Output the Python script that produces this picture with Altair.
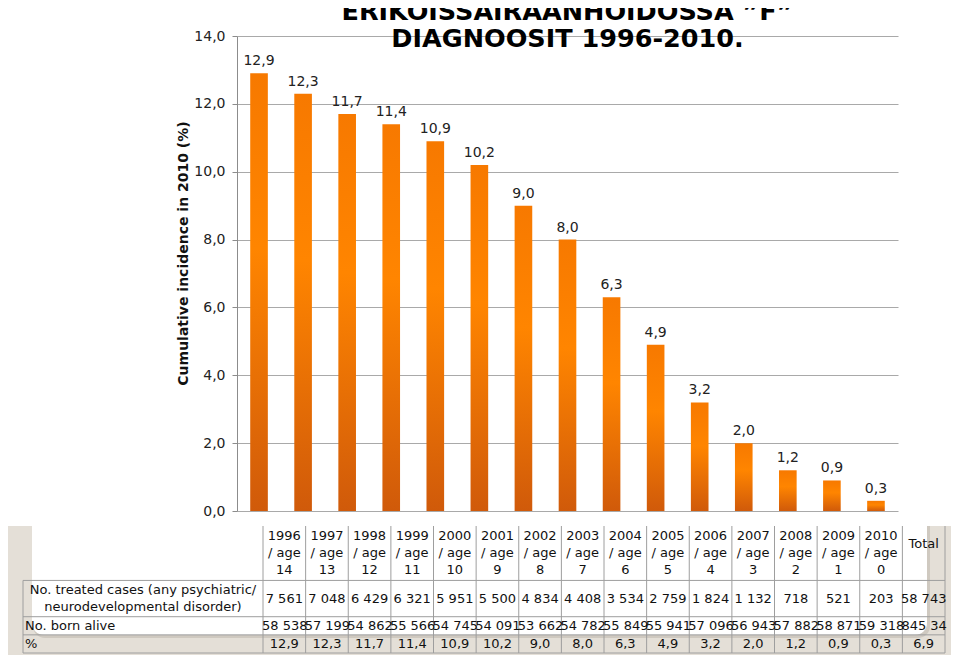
import altair as alt
import pandas as pd

# ---------------- data ----------------
years = [str(y) for y in range(1996, 2011)]
ages = [14, 13, 12, 11, 10, 9, 8, 7, 6, 5, 4, 3, 2, 1, 0]
incidence = [12.9, 12.3, 11.7, 11.4, 10.9, 10.2, 9.0, 8.0, 6.3, 4.9, 3.2, 2.0, 1.2, 0.9, 0.3]
treated = [7561, 7048, 6429, 6321, 5951, 5500, 4834, 4408, 3534, 2759, 1824, 1132, 718, 521, 203]
born = [58538, 57199, 54862, 55566, 54745, 54091, 53662, 54782, 55849, 55941, 57096, 56943, 57882, 58871, 59318]
total_treated = 58743
total_born = 845345
total_pct = 6.9
row_labels = ["No. treated cases (any psychiatric/\nneurodevelopmental disorder)", "No. born alive", "%"]
row_lines = [3, 2, 1, 1]  # text lines per table row: header, treated, born, %
title_lines = ["ERIKOISSAIRAANHOIDOSSA \u201dF\u201d", "DIAGNOOSIT 1996-2010."]
y_title = "Cumulative incidence in 2010 (%)"
y_ticks = [0, 2, 4, 6, 8, 10, 12, 14]

FONT = "DejaVu Sans"


def fi(v):
    return f"{v:.1f}".replace(".", ",")


def thousands(n):
    return f"{n:,}".replace(",", " ")


# ---------------- bar part ----------------
bar_df = pd.DataFrame({"year": years, "value": incidence, "label": [fi(v) for v in incidence]})

xbar = alt.X("year:N", sort=years, axis=None, scale=alt.Scale(paddingInner=0.6, paddingOuter=0.3))
ybar = alt.Y(
    "value:Q",
    scale=alt.Scale(domain=[0, 14], nice=False),
    axis=alt.Axis(
        values=y_ticks,
        labelExpr="replace(format(datum.value, '.1f'), '.', ',')",
        grid=True, gridColor="#a9a9a9", gridWidth=1,
        domainColor="#8c8c8c", tickColor="#8c8c8c", tickSize=5,
        labelPadding=7, labelFontSize=14, labelFont=FONT, labelColor="#222222",
        title=y_title, titleFont=FONT, titleFontSize=14, titleFontWeight="bold",
        titleColor="#111111", titleAngle=270, titleX=-54, titleY=217,
        titleAlign="center", titleBaseline="middle",
    ),
)

grad = alt.LinearGradient(
    gradient="linear",
    stops=[
        alt.GradientStop(color="#f77900", offset=0),
        alt.GradientStop(color="#ff8500", offset=0.4),
        alt.GradientStop(color="#d05a0a", offset=1),
    ],
    x1=1, x2=1, y1=0, y2=1,
)

bars = alt.Chart(bar_df).mark_bar(color=grad).encode(x=xbar, y=ybar)
bar_labels = alt.Chart(bar_df).mark_text(
    font=FONT, fontSize=14, color="#222222", baseline="bottom", dy=-5
).encode(x=alt.X("year:N", sort=years), y="value:Q", text="label:N")
bar_layer = alt.layer(bars, bar_labels)

# ---------------- table part ----------------
cols = years + ["Total"]
starts = [sum(row_lines[:i]) for i in range(len(row_lines))]
centers = [s + n / 2 for s, n in zip(starts, row_lines)]
n_lines = sum(row_lines)

tx_scale = alt.Scale(domain=cols, range=[26, 708], paddingInner=0, paddingOuter=0)
ty_scale = alt.Scale(domain=[0, n_lines], range=[490, 617], nice=False, zero=False)

header_df = pd.DataFrame({
    "col": years,
    "y": centers[0],
    "text": [f"{y}\n/ age\n{a}" for y, a in zip(years, ages)],
})
total_head_df = pd.DataFrame({"col": ["Total"], "y": [centers[0]], "text": ["Total"]})
treated_df = pd.DataFrame({"col": cols, "y": centers[1],
                           "text": [thousands(v) for v in treated] + [thousands(total_treated)]})
born_df = pd.DataFrame({"col": cols, "y": centers[2],
                        "text": [thousands(v) for v in born] + [thousands(total_born)]})
pct_df = pd.DataFrame({"col": cols, "y": centers[3],
                       "text": [fi(v) for v in incidence] + [fi(total_pct)]})

TX = lambda **kw: alt.X("col:N", sort=cols, scale=tx_scale, axis=None, **kw)
TY = lambda f="y": alt.Y(f"{f}:Q", scale=ty_scale, axis=None)

one = pd.DataFrame({"k": [0]})
beige = alt.Chart(one).mark_rect(color="#e4dfd7").encode(
    x=alt.value(-229), x2=alt.value(714), y=alt.value(490), y2=alt.value(619))
shadow = alt.Chart(one).mark_rect(color="#b9b3a9", opacity=0.5, cornerRadiusBottomLeft=12,
                                  cornerRadiusBottomRight=12).encode(
    x=alt.value(-204), x2=alt.value(693), y=alt.value(490), y2=alt.value(602))
panel = alt.Chart(one).mark_rect(color="#ffffff", cornerRadiusBottomLeft=12,
                                 cornerRadiusBottomRight=12).encode(
    x=alt.value(-205), x2=alt.value(690), y=alt.value(490), y2=alt.value(599))

txt = dict(font=FONT, fontSize=13, color="#111111", baseline="middle")
header = alt.Chart(header_df).mark_text(lineBreak="\n", lineHeight=17, dy=-17, **txt).encode(
    x=TX(), y=TY(), text="text:N")
total_head = alt.Chart(total_head_df).mark_text(dy=-9, **txt).encode(x=TX(), y=TY(), text="text:N")
treated_t = alt.Chart(treated_df).mark_text(**txt).encode(x=TX(), y=TY(), text="text:N")
born_t = alt.Chart(born_df).mark_text(align="left", dx=-1, limit=47, ellipsis="\u200b", **txt).encode(
    x=TX(bandPosition=0), y=TY(), text="text:N")
pct_t = alt.Chart(pct_df).mark_text(**txt).encode(x=TX(), y=TY(), text="text:N")

lab1_df = pd.DataFrame({"y": [centers[1]], "text": [row_labels[0]]})
lab2_df = pd.DataFrame({"y": centers[2:], "text": row_labels[1:]})
lab1 = alt.Chart(lab1_df).mark_text(align="center", lineBreak="\n", lineHeight=17, dy=-8.5, **txt).encode(
    x=alt.value(-94), y=TY(), text="text:N")
lab2 = alt.Chart(lab2_df).mark_text(align="left", **txt).encode(
    x=alt.value(-212), y=TY(), text="text:N")

LINE = "#9e9e9e"
vrule_df = pd.DataFrame({"col": cols, "y0": 0, "y1": n_lines})
vrules = alt.Chart(vrule_df).mark_rule(color=LINE, strokeWidth=1).encode(
    x=TX(bandPosition=0), y=TY("y0"), y2="y1:Q")
vright = alt.Chart(pd.DataFrame({"col": ["Total"], "y0": [0], "y1": [n_lines]})).mark_rule(
    color=LINE, strokeWidth=1).encode(x=TX(bandPosition=1), y=TY("y0"), y2="y1:Q")
vleft = alt.Chart(pd.DataFrame({"y0": [starts[1]], "y1": [n_lines]})).mark_rule(
    color=LINE, strokeWidth=1).encode(x=alt.value(-214), y=TY("y0"), y2="y1:Q")
hrule_df = pd.DataFrame({"y": starts[1:] + [n_lines]})
hrules = alt.Chart(hrule_df).mark_rule(color=LINE, strokeWidth=1).encode(
    x=alt.value(-214), x2=alt.value(708), y=TY())

table_layer = alt.layer(beige, shadow, panel, vrules, vright, vleft, hrules,
                        header, total_head, treated_t, born_t, pct_t, lab1, lab2)

chart = (
    alt.layer(bar_layer, table_layer)
    .resolve_scale(x="independent", y="independent")
    .properties(
        width=661, height=475,
        title=alt.TitleParams(
            title_lines, font=FONT, fontSize=25.5, fontWeight="bold", color="#000000",
            anchor="middle", frame="group", offset=-23, lineHeight=27,
        ),
        autosize=alt.AutoSizeParams(type="none"),
        padding={"left": 229, "top": 28, "right": 53, "bottom": 144},
        background="#ffffff",
    )
    .configure_view(stroke=None)
)

chart.save("out.html", embed_options={"renderer": "svg", "actions": False})
